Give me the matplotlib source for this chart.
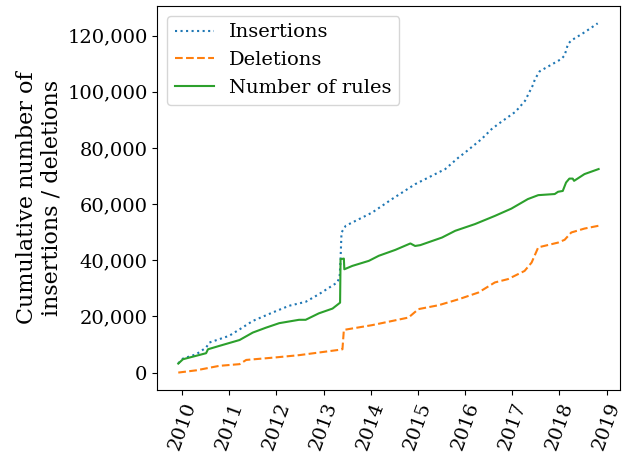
import matplotlib
matplotlib.use("Agg")
import matplotlib.pyplot as plt
from matplotlib.ticker import FuncFormatter

plt.rcParams['font.family'] = ['DejaVu Serif']

ins_x = [2009.92, 2010.02, 2010.30, 2010.51, 2010.58, 2011.00, 2011.22, 2011.50, 2011.92,
         2012.27, 2012.62, 2012.90, 2013.29, 2013.34, 2013.36, 2013.38, 2013.47, 2014.03,
         2014.45, 2014.94, 2015.58, 2015.86, 2016.00, 2016.35, 2016.56, 2016.70, 2017.05,
         2017.12, 2017.27, 2017.44, 2017.48, 2017.58, 2017.62, 2018.04, 2018.11, 2018.18,
         2018.25, 2018.53, 2018.81]
ins_y = [3300, 5000, 6500, 8900, 10700, 13100, 15400, 18400, 21400,
         23800, 25200, 27900, 32100, 34000, 40400, 49900, 52300, 57000,
         61800, 67100, 72500, 76600, 78400, 83200, 86700, 88500, 92700,
         93900, 96800, 102500, 104500, 107300, 107700, 111700, 113000, 117000,
         118300, 121200, 124400]

del_x = [2009.92, 2010.30, 2010.79, 2011.22, 2011.36, 2011.92, 2012.48, 2013.33, 2013.40,
         2013.43, 2014.03, 2014.80, 2015.01, 2015.44, 2015.86, 2016.28, 2016.63, 2016.91,
         2017.26, 2017.41, 2017.55, 2017.97, 2018.11, 2018.25, 2018.53, 2018.83]
del_y = [0, 800, 2400, 3000, 4500, 5300, 6200, 8100, 8300,
         15200, 16900, 19600, 22600, 24000, 26100, 28500, 32100, 33300,
         36200, 39200, 44600, 46300, 47300, 49900, 51300, 52300]

rul_x = [2009.92, 2010.02, 2010.51, 2010.55, 2010.79, 2011.22, 2011.50, 2011.78, 2012.06,
         2012.48, 2012.62, 2012.90, 2013.19, 2013.35, 2013.36, 2013.43, 2013.44, 2013.61,
         2013.96, 2014.17, 2014.52, 2014.84, 2014.94, 2015.05, 2015.51, 2015.79, 2016.21,
         2016.63, 2016.98, 2017.33, 2017.55, 2017.90, 2017.97, 2018.07, 2018.14, 2018.21,
         2018.28, 2018.31, 2018.53, 2018.83]
rul_y = [3200, 4750, 6900, 8300, 9500, 11600, 14250, 16000, 17600,
         18800, 18800, 21100, 22800, 24900, 40400, 40600, 36800, 38000,
         39800, 41600, 43700, 46000, 45100, 45400, 48100, 50500, 52900,
         55800, 58400, 61800, 63200, 63600, 64400, 64700, 67700, 69100,
         69100, 68300, 70700, 72500]

years = list(range(2010, 2020))

fig = plt.figure(figsize=(6.24, 4.53), dpi=100)
ax = fig.add_axes([0.252, 0.139, 0.741, 0.848])
ax.plot(ins_x, ins_y, linestyle=':', color='tab:blue', label='Insertions')
ax.plot(del_x, del_y, linestyle='--', color='tab:orange', label='Deletions')
ax.plot(rul_x, rul_y, linestyle='-', color='tab:green', label='Number of rules')

ax.set_xticks(years)
ax.set_xticklabels([str(y) for y in years], rotation=70, fontsize=14)
ax.yaxis.set_major_formatter(FuncFormatter(lambda v, p: f"{int(v):,}"))
ax.tick_params(axis='y', labelsize=14)
ax.set_ylabel("Cumulative number of\ninsertions / deletions", fontsize=16, labelpad=3)
ax.legend(loc='upper left', fontsize=14)

fig.savefig("out.png", dpi=100)
